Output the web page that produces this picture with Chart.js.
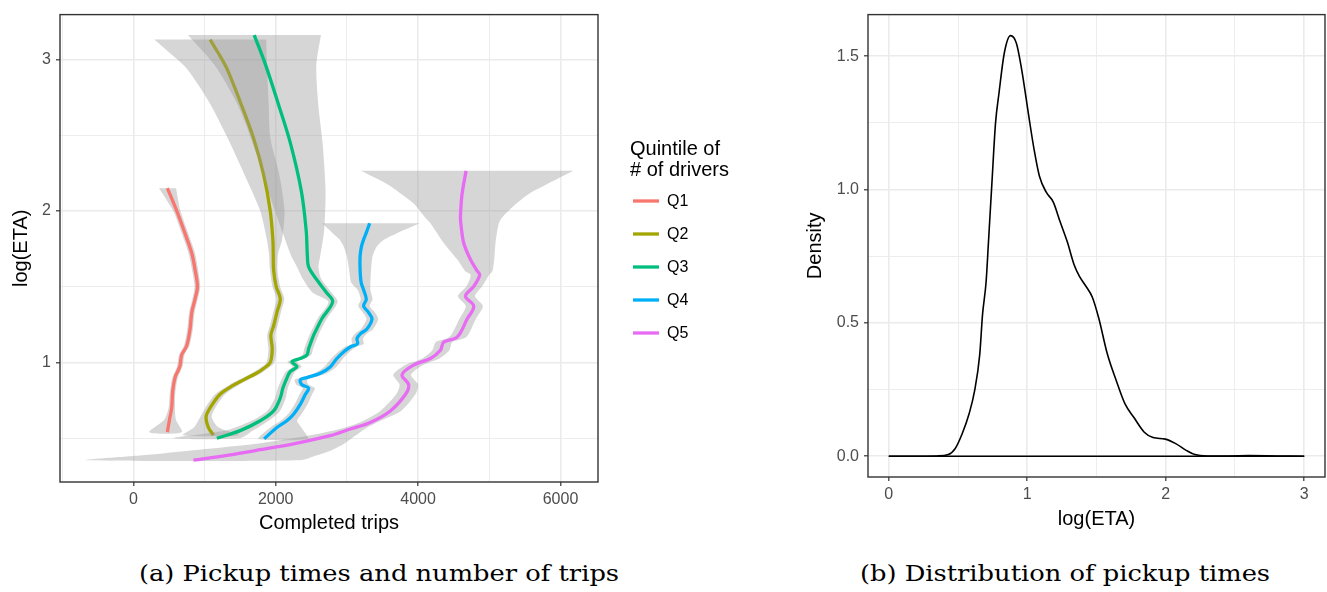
<!DOCTYPE html>
<html>
<head>
<meta charset="utf-8">
<title>Pickup times</title>
<script src="https://cdn.jsdelivr.net/npm/chart.js@4.4.1/dist/chart.umd.min.js"></script>
<style>
  html, body { margin: 0; padding: 0; background: #fff; }
  body { width: 1327px; height: 592px; position: relative; overflow: hidden; }
  canvas { position: absolute; top: 0; }
  #tripsChart { left: 0; }
  #densityChart { left: 760px; }
  .caption {
    position: absolute;
    top: 561px;
    font-family: "DejaVu Serif", serif;
    font-size: 22px;
    color: #000;
    white-space: nowrap;
    transform: translateX(-50%) scaleX(1.17);
  }
</style>
</head>
<body>
<canvas id="tripsChart" width="760" height="545"></canvas>
<canvas id="densityChart" width="567" height="545"></canvas>
<div class="caption" style="left: 379px">(a) Pickup times and number of trips</div>
<div class="caption" style="left: 1065px">(b) Distribution of pickup times</div>
<script>
const quintileLabels = ["Q1", "Q2", "Q3", "Q4", "Q5"];
const quintileColors = ["#F8766D", "#A3A500", "#00BF7D", "#00B0F6", "#E76BF3"];

// axis breaks (majors get a label, the rest are minor grid lines)
const tripsTickValues = [-1000, 0, 1000, 2000, 3000, 4000, 5000, 6000];
const etaTickValues = [0.5, 1, 1.5, 2, 2.5, 3];
const logEtaTickValues = [0, 0.5, 1, 1.5, 2, 2.5, 3];
const densityTickValues = [0, 0.25, 0.5, 0.75, 1, 1.25, 1.5];

// smoothed trips per log(ETA) level, with the band around each curve
const etaQ1 = [2.15, 2.0, 1.85, 1.72, 1.61, 1.5, 1.42, 1.33, 1.22, 1.11, 1.05, 0.98, 0.95, 0.9, 0.81, 0.7, 0.62, 0.54];
const tripsQ1 = [478, 610, 727, 821, 868, 900, 868, 821, 797, 750, 680, 657, 633, 586, 553, 539, 507, 478];
const lowerQ1 = [361, 560, 680, 775, 825, 860, 830, 783, 758, 712, 642, 618, 595, 548, 515, 495, 430, 225];
const upperQ1 = [600, 662, 772, 866, 910, 940, 906, 860, 836, 788, 718, 696, 672, 625, 592, 585, 600, 680];

const etaQ2 = [3.13, 3.04, 2.94, 2.72, 2.48, 2.24, 2.0, 1.81, 1.72, 1.61, 1.5, 1.42, 1.33, 1.24, 1.18, 1.09, 1.0, 0.96, 0.93, 0.885, 0.85, 0.79, 0.7, 0.64, 0.57, 0.52];
const tripsQ2 = [1079, 1195, 1313, 1501, 1688, 1829, 1923, 1960, 1965, 1970, 2007, 2064, 2017, 1970, 1932, 1951, 1923, 1829, 1735, 1548, 1407, 1219, 1079, 1022, 1055, 1126];
const lowerQ2 = [295, 516, 750, 1062, 1325, 1560, 1782, 1876, 1905, 1920, 1955, 2010, 1965, 1918, 1880, 1898, 1870, 1770, 1670, 1480, 1340, 1150, 1010, 940, 850, 700];
const upperQ2 = [1867, 1872, 1880, 1900, 1925, 2050, 2124, 2090, 2035, 2025, 2062, 2120, 2072, 2025, 1988, 2008, 1980, 1890, 1800, 1615, 1475, 1290, 1150, 1100, 1200, 1480];

const etaQ3 = [3.16, 2.96, 2.7, 2.44, 2.13, 1.87, 1.7, 1.63, 1.55, 1.46, 1.4, 1.29, 1.22, 1.18, 1.09, 1.05, 1.026, 1.004, 0.972, 0.939, 0.896, 0.831, 0.766, 0.68, 0.615, 0.55, 0.5];
const tripsQ3 = [1698, 1860, 2040, 2210, 2360, 2428, 2445, 2462, 2570, 2715, 2800, 2650, 2575, 2533, 2462, 2439, 2345, 2228, 2298, 2204, 2157, 2101, 2064, 1970, 1782, 1501, 1173];
const lowerQ3 = [767, 1143, 1466, 1681, 1897, 2086, 2220, 2300, 2382, 2520, 2740, 2590, 2515, 2473, 2400, 2378, 2285, 2165, 2235, 2140, 2090, 2030, 1990, 1880, 1660, 1300, 560];
const upperQ3 = [2635, 2570, 2598, 2660, 2700, 2680, 2625, 2600, 2640, 2785, 2870, 2720, 2640, 2600, 2525, 2500, 2410, 2300, 2360, 2270, 2225, 2170, 2140, 2060, 1900, 1680, 1500];

const etaQ4 = [1.918, 1.853, 1.81, 1.766, 1.7, 1.615, 1.528, 1.48, 1.416, 1.372, 1.329, 1.286, 1.221, 1.188, 1.156, 1.123, 1.102, 1.069, 1.026, 0.97, 0.929, 0.9, 0.885, 0.853, 0.831, 0.788, 0.723, 0.658, 0.615, 0.571, 0.496];
const tripsQ4 = [3319, 3270, 3234, 3205, 3185, 3185, 3200, 3234, 3272, 3234, 3305, 3352, 3281, 3188, 3141, 3150, 3047, 2953, 2859, 2765, 2627, 2439, 2345, 2368, 2462, 2415, 2345, 2251, 2157, 2017, 1838];
const lowerQ4 = [2652, 2800, 2900, 2953, 3000, 3030, 3060, 3150, 3195, 3160, 3225, 3275, 3200, 3110, 3065, 3070, 2970, 2875, 2780, 2680, 2545, 2360, 2265, 2290, 2380, 2335, 2265, 2170, 2070, 1925, 1760];
const upperQ4 = [4025, 3703, 3520, 3422, 3360, 3340, 3330, 3330, 3360, 3320, 3395, 3440, 3370, 3275, 3225, 3235, 3130, 3035, 2945, 2850, 2720, 2530, 2440, 2460, 2550, 2510, 2445, 2360, 2300, 2360, 2450];

const etaQ5 = [2.264, 2.177, 2.113, 2.048, 1.961, 1.918, 1.788, 1.68, 1.604, 1.578, 1.502, 1.437, 1.372, 1.286, 1.167, 1.134, 1.08, 1.026, 0.983, 0.918, 0.853, 0.788, 0.68, 0.604, 0.561, 0.517, 0.463, 0.424, 0.387, 0.355];
const tripsQ5 = [4674, 4640, 4618, 4605, 4595, 4600, 4641, 4735, 4829, 4866, 4782, 4665, 4782, 4688, 4548, 4360, 4313, 4173, 3938, 3774, 3868, 3821, 3610, 3328, 3047, 2765, 2251, 1782, 1313, 844];
const lowerQ5 = [3197, 3563, 3760, 3938, 4090, 4173, 4360, 4548, 4660, 4740, 4680, 4560, 4670, 4580, 4440, 4250, 4200, 4060, 3820, 3650, 3740, 3690, 3470, 3180, 2900, 2466, 1730, 924, 124, -657];
const upperQ5 = [6180, 5814, 5560, 5380, 5190, 5134, 5087, 5070, 5045, 5000, 4900, 4800, 4910, 4810, 4680, 4480, 4440, 4300, 4070, 3900, 4000, 3960, 3760, 3420, 3250, 3120, 2960, 2800, 2580, 2345];

// kernel density of log(ETA)
const densityX = [0, 0.2, 0.35, 0.43, 0.48, 0.53, 0.58, 0.62, 0.657, 0.677, 0.703, 0.72, 0.745, 0.771, 0.796, 0.834, 0.879, 0.922, 0.96, 1.011, 1.049, 1.087, 1.137, 1.188, 1.238, 1.289, 1.339, 1.377, 1.42, 1.47, 1.516, 1.579, 1.643, 1.706, 1.769, 1.845, 1.908, 1.996, 2.072, 2.148, 2.211, 2.3, 2.45, 2.6, 2.8, 3.0];
const densityY = [0, 0, 0.001, 0.006, 0.029, 0.084, 0.159, 0.246, 0.382, 0.531, 0.655, 0.804, 1.027, 1.25, 1.362, 1.511, 1.577, 1.548, 1.449, 1.275, 1.151, 1.052, 0.99, 0.953, 0.878, 0.804, 0.717, 0.674, 0.64, 0.596, 0.518, 0.382, 0.283, 0.196, 0.146, 0.09, 0.07, 0.064, 0.047, 0.022, 0.006, 0.001, 0.001, 0.002, 0.001, 0];

const quintiles = [
  { eta: etaQ1, trips: tripsQ1, lower: lowerQ1, upper: upperQ1 },
  { eta: etaQ2, trips: tripsQ2, lower: lowerQ2, upper: upperQ2 },
  { eta: etaQ3, trips: tripsQ3, lower: lowerQ3, upper: upperQ3 },
  { eta: etaQ4, trips: tripsQ4, lower: lowerQ4, upper: upperQ4 },
  { eta: etaQ5, trips: tripsQ5, lower: lowerQ5, upper: upperQ5 },
];

Chart.defaults.font.family = '"Liberation Sans", Arial, Helvetica, sans-serif';
Chart.defaults.color = "#4D4D4D";

const gridColor = "#EBEBEB";
const frameColor = "#333333";
const bandColor = "rgba(153, 153, 153, 0.4)";

function isMultiple(value, step) {
  const r = value / step;
  return Math.abs(r - Math.round(r)) < 1e-6;
}

// ggplot-like axis: labelled major ticks, unlabelled minor grid in between
function axisOptions(min, max, tickValues, majorStep, format, fitSize, title, titlePadding, labelPadding) {
  const isMajor = (c) => c.tick && isMultiple(c.tick.value, majorStep);
  return {
    type: "linear",
    min,
    max,
    afterFit: fitSize,
    afterBuildTicks: (scale) => {
      scale.ticks = tickValues.map((value) => ({ value }));
    },
    border: { display: false },
    ticks: {
      autoSkip: false,
      maxRotation: 0,
      padding: labelPadding,
      color: "#4D4D4D",
      font: { size: 16 },
      callback: (v) => (isMultiple(v, majorStep) ? format(v) : ""),
    },
    grid: {
      color: gridColor,
      lineWidth: (c) => (isMajor(c) ? 1.6 : 0.9),
      tickLength: 4,
      tickWidth: 1.2,
      tickColor: (c) => (isMajor(c) ? frameColor : "rgba(0,0,0,0)"),
    },
    title: {
      display: true,
      text: title,
      color: "#000",
      font: { size: 20 },
      padding: titlePadding,
    },
  };
}

const panelBorder = {
  id: "panelBorder",
  afterDatasetsDraw(chart) {
    const { ctx, chartArea: a } = chart;
    ctx.save();
    ctx.strokeStyle = frameColor;
    ctx.lineWidth = 1.4;
    ctx.strokeRect(a.left, a.top, a.right - a.left, a.bottom - a.top);
    ctx.restore();
  },
};

const quintileLegend = {
  id: "quintileLegend",
  afterDraw(chart) {
    const { ctx } = chart;
    const x = chart.chartArea.right + 32;
    ctx.save();
    ctx.fillStyle = "#000";
    ctx.font = '20px "Liberation Sans", Arial, sans-serif';
    ctx.textBaseline = "alphabetic";
    ctx.fillText("Quintile of", x, 155);
    ctx.fillText("# of drivers", x, 176);
    ctx.font = '16px "Liberation Sans", Arial, sans-serif';
    ctx.textBaseline = "middle";
    chart.data.datasets
      .filter((d) => d.isTrend)
      .forEach((d, i) => {
        const y = 201 + i * 33;
        ctx.strokeStyle = d.borderColor;
        ctx.lineWidth = d.borderWidth;
        ctx.beginPath();
        ctx.moveTo(x + 3, y);
        ctx.lineTo(x + 29, y);
        ctx.stroke();
        ctx.fillText(d.label, x + 37, y + 1);
      });
    ctx.restore();
  },
};

// each group: band first, then its curve, so later bands sit over earlier curves
const tripsDatasets = [];
quintiles.forEach((q, k) => {
  const lowerEdge = q.lower.map((x, i) => ({ x, y: q.eta[i] }));
  const upperEdge = q.upper.map((x, i) => ({ x, y: q.eta[i] })).reverse();
  tripsDatasets.push({
    label: quintileLabels[k] + " band",
    data: lowerEdge.concat(upperEdge),
    fill: "shape",
    backgroundColor: bandColor,
    borderColor: "rgba(0,0,0,0)",
    borderWidth: 0,
    pointRadius: 0,
    tension: 0.25,
    order: 100 - 2 * k,
  });
  tripsDatasets.push({
    label: quintileLabels[k],
    isTrend: true,
    data: q.trips.map((x, i) => ({ x, y: q.eta[i] })),
    fill: false,
    borderColor: quintileColors[k],
    borderWidth: 3.3,
    pointRadius: 0,
    tension: 0.35,
    order: 99 - 2 * k,
  });
});

new Chart(document.getElementById("tripsChart"), {
  type: "line",
  data: { datasets: tripsDatasets },
  options: {
    responsive: false,
    devicePixelRatio: 1,
    animation: false,
    events: [],
    layout: { padding: { top: 8, right: 162, left: 0, bottom: 0 } },
    plugins: { legend: { display: false }, tooltip: { enabled: false } },
    scales: {
      x: axisOptions(-1030, 6527, tripsTickValues, 2000, (v) => String(v), (s) => { s.height = 63; },
        "Completed trips", { top: 0, bottom: 10 }, 4),
      y: axisOptions(0.211, 3.295, etaTickValues, 1, (v) => String(v), (s) => { s.width = 60; },
        "log(ETA)", { top: 9, bottom: 0 }, 5),
    },
  },
  plugins: [panelBorder, quintileLegend],
});

new Chart(document.getElementById("densityChart"), {
  type: "line",
  data: {
    datasets: [
      {
        label: "density",
        data: densityX.map((x, i) => ({ x, y: densityY[i] })),
        borderColor: "#000",
        borderWidth: 1.6,
        pointRadius: 0,
        fill: false,
        cubicInterpolationMode: "monotone",
      },
      {
        label: "baseline",
        data: [{ x: densityX[0], y: 0 }, { x: densityX[densityX.length - 1], y: 0 }],
        borderColor: "#000",
        borderWidth: 1.6,
        pointRadius: 0,
        fill: false,
      },
    ],
  },
  options: {
    responsive: false,
    devicePixelRatio: 1,
    animation: false,
    events: [],
    layout: { padding: { top: 11, right: 2, left: 0, bottom: 0 } },
    plugins: { legend: { display: false }, tooltip: { enabled: false } },
    scales: {
      x: axisOptions(-0.15, 3.15, logEtaTickValues, 1, (v) => String(v), (s) => { s.height = 68; },
        "log(ETA)", { top: 0, bottom: 14 }, 4),
      y: axisOptions(-0.078, 1.656, densityTickValues, 0.5, (v) => v.toFixed(1), (s) => { s.width = 108; },
        "Density", { top: 43, bottom: 0 }, 5),
    },
  },
  plugins: [panelBorder],
});
</script>
</body>
</html>
